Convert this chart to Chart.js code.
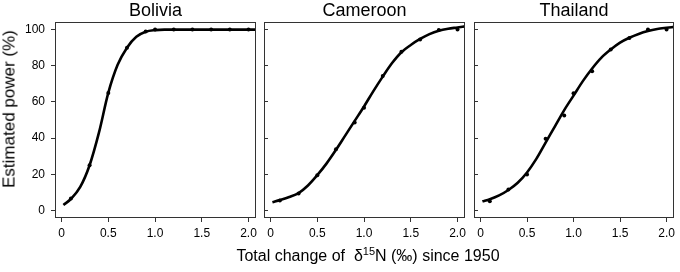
<!DOCTYPE html>
<html>
<head>
<meta charset="utf-8">
<script src="https://cdn.jsdelivr.net/npm/chart.js@4/dist/chart.umd.min.js"></script>
<style>
  body { margin: 0; background: #fff; }
  #wrap { position: relative; width: 680px; height: 272px; font-family: "Liberation Sans", Arial, sans-serif; color: #000; }
  #wrap canvas { position: absolute; left: 0; top: 0; }
  .ylab { position: absolute; left: 9px; top: 109px; transform: translate(-50%, -50%) rotate(-90deg); white-space: nowrap; font-size: 17px; line-height: 17px; }
  .xlab { position: absolute; left: 368px; top: 248px; transform: translateX(-50%); white-space: nowrap; font-size: 16px; line-height: 16px; }
  .xlab .sup { font-size: 11px; position: relative; top: -6px; }
</style>
</head>
<body>
<div id="wrap">
  <canvas id="p0" width="680" height="272"></canvas>
  <canvas id="p1" width="680" height="272"></canvas>
  <canvas id="p2" width="680" height="272"></canvas>
  <div class="ylab">Estimated power (%)</div>
  <div class="xlab">Total change of &nbsp;δ<span class="sup">15</span>N (‰) since 1950</div>
</div>
<script>
"use strict";

// tick labels
var xTicks = [0, 0.5, 1, 1.5, 2];
var xTickLabels = ['0', '0.5', '1.0', '1.5', '2.0'];
var yTicks = [0, 20, 40, 60, 80, 100];

var countries = ['Bolivia', 'Cameroon', 'Thailand'];

// simulated power at each sampled change (points)
var sampleX = [0.1, 0.3, 0.5, 0.7, 0.9, 1.0, 1.2, 1.4, 1.6, 1.8, 2.0];
var boliviaPts  = [6.6, 25, 65, 90, 99, 100, 100, 100, 100, 100, 100];
var cameroonPts = [5.5, 9.3, 19.5, 33.8, 48.6, 56.8, 74.3, 87.8, 94.5, 99.8, 100];
var thailandPts = [5.0, 11.5, 19.9, 39.6, 52.5, 64.8, 77, 89, 95.3, 100, 100];

// fitted curves
var fitX = [0.02, 0.1, 0.2, 0.3, 0.4, 0.5, 0.6, 0.7, 0.8, 0.9, 1.0, 1.1, 1.2, 1.3, 1.4, 1.5, 1.6, 1.7, 1.8, 1.9, 2.0, 2.08];
var boliviaFit  = [3, 6.3, 13, 25, 43, 65, 80.5, 90, 96, 98.8, 99.7, 100, 100, 100, 100, 100, 100, 100, 100, 100, 100, 100];
var cameroonFit = [4.5, 5.7, 7.4, 9.6, 13.8, 19.5, 26, 33.5, 41.5, 49.5, 57.5, 66, 74, 81.5, 87.5, 91.5, 94.8, 97.5, 99.4, 100.5, 101.2, 101.8];
var thailandFit = [5, 6.2, 8.3, 11.3, 15.3, 21, 28.5, 37.5, 46.5, 55.5, 63.5, 71.5, 78.5, 84.5, 89, 92.8, 95.5, 97.6, 99.2, 100.3, 101, 101.5];

var pts  = [boliviaPts, cameroonPts, thailandPts];
var fits = [boliviaFit, cameroonFit, thailandFit];

Chart.defaults.font.family = '"Liberation Sans", Arial, sans-serif';
Chart.defaults.color = '#000';

var boxPlugin = {
  id: 'box',
  afterDraw: function(chart) {
    var a = chart.chartArea, c = chart.ctx;
    c.save();
    c.strokeStyle = '#333';
    c.lineWidth = 1;
    c.strokeRect(a.left + 0.5, a.top + 0.5, a.right - a.left - 1, a.bottom - a.top - 1);
    c.restore();
  }
};

// panel placement on the shared canvas area
var layouts = [
  { left: 0,   right: 424, yWidth: 55 },
  { left: 264, right: 215, yWidth: 0 },
  { left: 474, right: 6,   yWidth: 0 }
];

function pairs(xs, ys) {
  return xs.map(function(x, i) { return { x: x, y: ys[i] }; });
}

function renderPanel(i) {
  var first = i === 0;
  new Chart(document.getElementById('p' + i), {
    type: 'scatter',
    data: {
      datasets: [
        {
          data: pairs(fitX, fits[i]),
          showLine: true,
          cubicInterpolationMode: 'monotone',
          borderColor: '#000',
          borderWidth: 2.6,
          pointRadius: 0
        },
        {
          data: pairs(sampleX, pts[i]),
          showLine: false,
          pointRadius: 2,
          pointBackgroundColor: '#000',
          pointBorderWidth: 0
        }
      ]
    },
    options: {
      responsive: false,
      animation: false,
      events: [],
      layout: { padding: { left: layouts[i].left, right: layouts[i].right, top: 0, bottom: 0 } },
      plugins: { legend: { display: false }, tooltip: { enabled: false } },
      scales: {
        x: {
          type: 'linear', min: -0.07, max: 2.08,
          afterBuildTicks: function(s) { s.ticks = xTicks.map(function(v) { return { value: v }; }); },
          afterFit: function(s) { s.height = 54; },
          grid: { drawOnChartArea: false, tickLength: 4, color: '#333' },
          border: { display: false },
          ticks: {
            padding: 4, autoSkip: false, maxRotation: 0, font: { size: 12 }, color: '#000',
            callback: function(v) { return xTickLabels[xTicks.indexOf(v)]; }
          }
        },
        top: {
          type: 'linear', position: 'top', min: -0.07, max: 2.08,
          afterFit: function(s) { s.height = 22; },
          grid: { display: false },
          border: { display: false },
          ticks: { display: false },
          title: { display: true, text: countries[i], font: { size: 18 }, color: '#000', padding: 0 }
        },
        y: {
          min: -4.2, max: 104.2,
          afterBuildTicks: function(s) { s.ticks = yTicks.map(function(v) { return { value: v }; }); },
          afterFit: function(s) { s.width = layouts[i].yWidth; },
          grid: { drawOnChartArea: false, tickLength: first ? 4 : -4, color: '#333' },
          border: { display: false },
          ticks: { display: first, padding: 6, font: { size: 12 }, color: '#000' }
        }
      }
    },
    plugins: [boxPlugin]
  });
}

[0, 1, 2].forEach(renderPanel);
</script>
</body>
</html>
